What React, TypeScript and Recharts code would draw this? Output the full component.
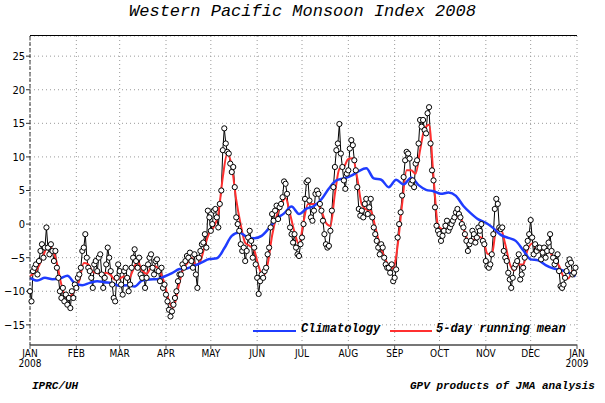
import React from "react";
import { LineChart, Line, XAxis, YAxis, CartesianGrid } from "recharts";

// daily WPMI values, 2008 (leap year)
const dailyJan = [-10, -11.5, -7, -6.5, -6, -7.5, -5.5, -4, -3, -5, -3.5, -0.5, -3.5, -4.5, -3, -4, -5.5, -4, -6.5, -8, -10, -11, -9.5, -11.5, -10.5, -12, -11, -12.5, -10, -11, -9];
const dailyFeb = [-9.5, -8, -7.5, -6.5, -4, -3.5, -1.5, -5, -6.5, -7, -8, -9.5, -6, -5.5, -7, -5, -4.5, -7.5, -9.5, -8, -6, -3.5, -5, -7, -9, -11, -11.5, -8, -6];
const dailyMar = [-7, -9, -10.5, -7, -6.5, -8, -10, -9, -6.5, -5, -3.75, -5.5, -6.5, -5, -7.5, -8, -6.5, -9.5, -8, -6, -5, -4.5, -6.5, -7.5, -5.5, -5.25, -7, -8.5, -6.5, -9.5, -9];
const dailyApr = [-10.5, -11.5, -12.75, -13.75, -13, -12, -11, -10, -8.5, -7.5, -7.5, -6, -6.5, -5.5, -4.75, -5, -4.25, -5.5, -6.5, -4.5, -7.5, -9.5, -5, -4, -3, -2.75, -1.5, -3.5, 2, 1];
const dailyMay = [-1, 0, 2, 2.25, 1, -0.5, 3, 5, 11, 14.25, 12, 10.75, 10.5, 9, 7.75, 8.5, 5.5, 1, 0, -1, -3, -4, -3.5, -5.5, -4, -2, -1, -2.5, -5, -3.5, -6];
const dailyJun = [-8, -10.4, -8.5, -7.5, -8, -7, -6.5, -4.5, -3.5, -0.5, 1.5, 0.5, 2, 2.75, 0.75, 2.5, 3, 4, 6.35, 6, 4.5, 1.75, -0.5, -1.5, -2.75, -1.5, -3.5, -4.5, -4.75, -3];
const dailyJul = [-2, 0, 3.75, 6.25, 6.5, 3.5, 1, 0.5, 2, 4.5, 5, 4.5, 3, 2, 0.5, -1.5, -3, -3.5, -3.25, -1, 2, 5.5, 8.5, 11, 12, 14.9, 10.5, 8.5, 6.5, 5.25, 7.5];
const dailyAug = [8, 11.25, 12.5, 11.75, 9.5, 8, 5.5, 2.25, 1.25, 2, 1, 3, 3.75, 1.5, 2.5, 3.75, 1, -0.5, -1.5, -2.5, -3.5, -4.5, -3, -3.5, -5, -6, -6.5, -6.5, -7.25, -6, -8.5];
const dailySep = [-8, -6.75, -2, 0, 1.75, 4.25, 7, 9.5, 10.75, 10.5, 9.75, 6, 6.5, 5.5, 9, 9.5, 12, 15.5, 14.5, 15.5, 14, 13.5, 16.5, 17.4, 12, 8, 6.5, 2.5, -0.25, -1];
const dailyOct = [-1.5, -2.5, -1.75, -1, -0.25, 0.5, -1, -0.5, 0, 0.5, 1, 1.75, 2.25, 1.5, 1, 0, -0.5, -1.5, -2.5, -4, -3, -2.5, -1, -1.5, -2.75, -2, -0.5, -1, 0, -2.5, -3];
const dailyNov = [-5.5, -6.25, -6.5, -6, -4.5, -1.5, 2.25, 3.75, 3, -0.5, -0.75, -0.5, -4, -5, -5.5, -7.25, -8.25, -9.5, -8, -6.5, -6, -5.5, -4.5, -8.25, -7.5, -6.5, -5, -3.5, -2.5, -1.5];
const dailyDec = [0.6, -2, -4.5, -3, -4, -3.5, -3.5, -5.25, -4.25, -3.5, -5, -4, -2.75, -1.5, -4, -5, -6, -5.5, -4.5, -7, -9.25, -9.5, -9, -8, -7, -6, -5.25, -5.75, -7.5, -7.25, -6.5];

// 5-day running mean, read every 3rd day from day 0
const runningMean3 = [
  -7.75, -7.2, -6.2, -4.6, -3.3, -3.8, -5.8, -9, -10.8, -10.7,
  -9.8, -8.4, -5.8, -6, -7.1, -7.3, -7.5, -7.25, -7.6, -8.3,
  -8.1, -7.8, -8.2, -6.8, -5.6, -6.9, -7.4, -6.5, -6.3, -7.1,
  -8.8, -11.5, -12.4, -9.7, -7, -5.9, -5, -6.1, -5.5, -3.2,
  -1.3, -0.4, 1.5, 7, 10.5, 8.6, 3.6, -0.1, -2.8, -3.25,
  -3.9, -6.3, -7.8, -6, -1.7, 1.2, 2.9, 3.9, 1.5, -1.2,
  -3, 0.3, 3, 3, 3, 2, 0.2, -0.3, 4.5, 8.2,
  8.5, 9.7, 9.8, 6.8, 2.9, 2.2, 2, -0.4, -3, -4.8,
  -6.2, -6.6, -3.2, 3, 8, 8, 7.5, 11, 14.2, 14.8,
  7, -0.2, -0.75, -0.4, 0, 1, 1, -1.3, -2.7, -2.3,
  -1.9, -2.2, -4.4, -4.6, -0.8, -0.8, -3, -5.9, -6.9, -6,
  -6, -3.8, -2.9, -3.7, -4, -3.8, -4.2, -5.5, -6.2, -7.8,
  -8.1, -6.9,
];

// climatology, read every 5th day from day 0
const climatology5 = [
  -8, -8.4, -8, -8.2, -8.1, -7.7, -8.8, -9.1, -8.75, -8.5,
  -8.65, -8.8, -9.2, -9.1, -9.3, -8.4, -8.25, -8.2, -7.8, -7.3,
  -6.7, -6.6, -6.2, -5.7, -5.2, -5.1, -3.6, -1.75, -1.25, -1.9,
  -2.1, -1.75, -0.6, 0.75, 1.6, 2.6, 1.5, 2.3, 2.7, 3.7,
  5.3, 6.5, 6.8, 7.2, 7.9, 8.3, 6.8, 6.6, 5.5, 6.6,
  5.9, 6.9, 5.8, 5.1, 4.9, 4.5, 4.7, 4.2, 2.7, 1.6,
  0.7, 0.2, -0.6, -1.6, -2.05, -2.5, -3.9, -5.25, -5.4, -6.1,
  -6.6, -6.8, -7.2, -7.8,
];

const monthLabels = ["JAN", "FEB", "MAR", "APR", "MAY", "JUN", "JUL", "AUG", "SEP", "OCT", "NOV", "DEC", "JAN"];
const monthStarts = [0, 31, 60, 91, 121, 152, 182, 213, 244, 274, 305, 335, 366];
const yTicks = [-15, -10, -5, 0, 5, 10, 15, 20, 25];

const daily = [
  ...dailyJan, ...dailyFeb, ...dailyMar, ...dailyApr, ...dailyMay, ...dailyJun,
  ...dailyJul, ...dailyAug, ...dailySep, ...dailyOct, ...dailyNov, ...dailyDec,
].map((v, i) => ({ day: i, v }));
const meanData = runningMean3.map((v, i) => ({ day: i * 3, v }));
const climData = climatology5.map((v, i) => ({ day: i * 5, v }));

const tickFont = '"Liberation Sans Narrow", "DejaVu Sans Condensed", Arial, sans-serif';
const hershey = '"Liberation Mono", "DejaVu Sans Mono", monospace';

function MonthTick({ x, y, payload }: any) {
  const i = monthStarts.indexOf(payload.value);
  const year = i === 0 ? "2008" : i === 12 ? "2009" : null;
  return (
    <text x={x} y={y} textAnchor="middle" fontSize={10} fontFamily={tickFont} fill="#000">
      <tspan x={x} dy={8}>{monthLabels[i]}</tspan>
      {year && <tspan x={x} dy={10}>{year}</tspan>}
    </text>
  );
}

export default function App() {
  return (
    <div style={{ position: "absolute", left: 0, top: 0, width: 605, height: 403, background: "#fff" }}>
      <div
        style={{
          position: "absolute", left: 0, top: 2, width: 605, textAlign: "center",
          fontFamily: hershey, fontStyle: "italic", fontSize: 17, color: "#000",
        }}
      >
        Western Pacific Monsoon Index 2008
      </div>

      <LineChart width={605} height={403} margin={{ top: 36, right: 28, left: 0, bottom: 0 }}>
        <CartesianGrid stroke="#9a9a9a" strokeDasharray="1 3" />
        <XAxis
          dataKey="day"
          type="number"
          domain={[0, 366]}
          ticks={monthStarts}
          interval={0}
          height={58}
          tickSize={4}
          tickMargin={0}
          tick={<MonthTick />}
          axisLine={{ stroke: "#777", strokeWidth: 2 }}
          tickLine={{ stroke: "#555" }}
          allowDuplicatedCategory={false}
        />
        <YAxis
          type="number"
          domain={[-18, 28]}
          ticks={yTicks}
          width={30}
          tickSize={4}
          tickMargin={1}
          tick={{ fontSize: 11, fill: "#000", fontFamily: tickFont }}
          tickFormatter={(v: number) => String(v).replace("-", "\u2212")}
          axisLine={{ stroke: "#333", strokeDasharray: "4 2" }}
          tickLine={{ stroke: "#333" }}
          allowDataOverflow
        />
        <YAxis yAxisId="right" orientation="right" type="number" domain={[-18, 28]} width={0} tick={false} tickLine={false} axisLine={{ stroke: "#333", strokeDasharray: "4 2" }} />
        <Line
          data={daily}
          dataKey="v"
          type="linear"
          stroke="#000"
          strokeWidth={1}
          dot={{ r: 2.6, fill: "#fff", stroke: "#000", strokeWidth: 1 }}
          isAnimationActive={false}
        />
        <Line data={meanData} dataKey="v" type="monotone" stroke="#ff3030" strokeWidth={2} dot={false} isAnimationActive={false} />
        <Line data={climData} dataKey="v" type="monotone" stroke="#1f3cff" strokeWidth={2.5} dot={false} isAnimationActive={false} />
      </LineChart>

      {/* solid top frame line */}
      <div style={{ position: "absolute", left: 30, top: 35, width: 547, height: 0, borderTop: "1.5px solid #000" }} />

      {/* legend */}
      <div style={{ position: "absolute", left: 253, top: 330, width: 43, height: 2, background: "#1f3cff" }} />
      <div style={{ position: "absolute", left: 301, top: 322, fontFamily: hershey, fontStyle: "italic", fontWeight: "bold", fontSize: 12, color: "#000" }}>
        Climatology
      </div>
      <div style={{ position: "absolute", left: 390, top: 330, width: 42, height: 2, background: "#ff3030" }} />
      <div style={{ position: "absolute", left: 436, top: 322, fontFamily: hershey, fontStyle: "italic", fontWeight: "bold", fontSize: 12, color: "#000" }}>
        5-day running mean
      </div>

      {/* footer */}
      <div style={{ position: "absolute", left: 32, top: 380, fontFamily: hershey, fontStyle: "italic", fontWeight: "bold", fontSize: 11, color: "#000" }}>
        IPRC/UH
      </div>
      <div style={{ position: "absolute", left: 410, top: 380, fontFamily: hershey, fontStyle: "italic", fontWeight: "bold", fontSize: 11, color: "#000" }}>
        GPV products of JMA analysis
      </div>
    </div>
  );
}
